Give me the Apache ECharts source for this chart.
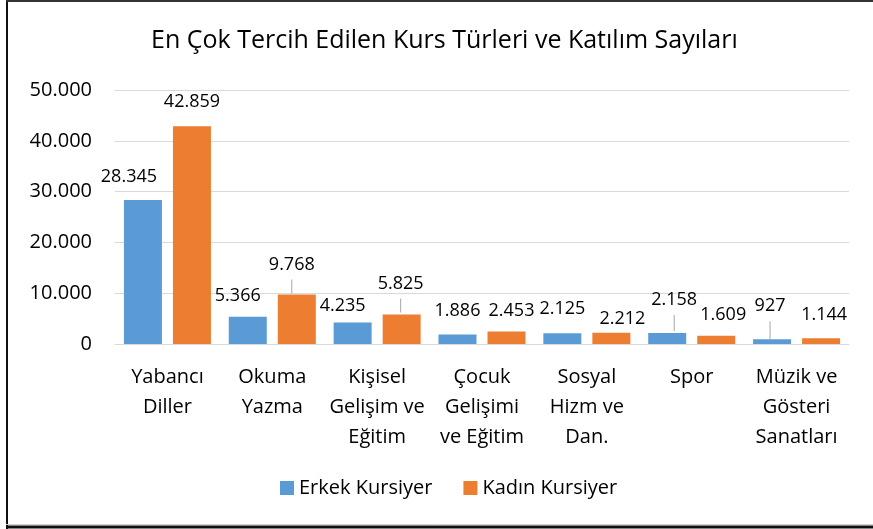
<!DOCTYPE html>
<html>
<head>
<meta charset="utf-8">
<script src="https://cdn.jsdelivr.net/npm/echarts@6/dist/echarts.min.js"></script>
<style>
html,body{margin:0;padding:0;background:#fff;}
#c{width:873px;height:529px;}
</style>
</head>
<body>
<div id="c"></div>
<script>
const titleText = 'En Çok Tercih Edilen Kurs Türleri ve Katılım Sayıları';
const categories = ['Yabancı\nDiller', 'Okuma\nYazma', 'Kişisel\nGelişim ve\nEğitim', 'Çocuk\nGelişimi\nve Eğitim', 'Sosyal\nHizm ve\nDan.', 'Spor', 'Müzik ve\nGösteri\nSanatları'];
const seriesNames = ['Erkek Kursiyer', 'Kadın Kursiyer'];
const erkek = [28345, 5366, 4235, 1886, 2125, 2158, 927];
const kadin = [42859, 9768, 5825, 2453, 2212, 1609, 1144];
const yTicks = [0, 10000, 20000, 30000, 40000, 50000];

// label placement (style only): [dx, dy] and leader-line length (0 = none)
const erkekLabelOffsets = [[-14, -9], [-10, -7], [-10, -3], [0, -10], [0, -10], [7, -1], [-2, 2]];
const kadinLabelOffsets = [[0, -10], [-5, 0], [-1, -1], [5, -7], [11, 0], [7, -7], [3, -9]];
const erkekLeader = [0, 0, 0, 0, 0, 16, 19];
const kadinLeader = [0, 14, 14, 0, 0, 0, 0];

const FONT = 'Open Sans';
const fmt = v => String(v).replace(/\B(?=(\d{3})+(?!\d))/g, '.');

function buildData(vals, offs, leaders) {
  return vals.map((v, i) => {
    const item = { value: v, label: { offset: offs[i] } };
    if (leaders[i] > 0) {
      item.label.distance = 1;
      item.label.formatter = p => '{v|' + fmt(p.value) + '}\n{l|}';
      item.label.rich = {
        v: { fontFamily: FONT, fontSize: 18, color: '#000', lineHeight: 30 },
        l: { width: 1, height: leaders[i], lineHeight: leaders[i], backgroundColor: '#a6a6a6' }
      };
    }
    return item;
  });
}

const chart = echarts.init(document.getElementById('c'), null, { renderer: 'canvas' });
chart.setOption({
  animation: false,
  backgroundColor: '#fff',
  title: {
    text: titleText,
    left: 146,
    top: 23,
    padding: 5,
    textStyle: { fontFamily: FONT, fontSize: 25, fontWeight: 'normal', color: '#000' }
  },
  legend: {
    data: seriesNames,
    left: 275,
    top: 473,
    icon: 'rect',
    itemWidth: 14,
    itemHeight: 14,
    itemGap: 31,
    textStyle: { fontFamily: FONT, fontSize: 20, color: '#000' }
  },
  grid: { left: 115, right: 24, top: 90, bottom: 185, containLabel: false },
  xAxis: {
    type: 'category',
    data: categories,
    axisLine: { lineStyle: { color: '#d9d9d9', width: 1 } },
    axisTick: { show: false },
    axisLabel: { interval: 0, margin: 18, fontFamily: FONT, fontSize: 20, lineHeight: 30, color: '#000' }
  },
  yAxis: {
    type: 'value',
    min: yTicks[0],
    max: yTicks[yTicks.length - 1],
    interval: yTicks[1] - yTicks[0],
    axisLine: { show: false },
    axisTick: { show: false },
    splitLine: { lineStyle: { color: '#d9d9d9', width: 1 } },
    axisLabel: { margin: 23, fontFamily: FONT, fontSize: 20, color: '#000', formatter: fmt }
  },
  series: [
    {
      name: seriesNames[0],
      type: 'bar',
      barWidth: 38,
      barGap: '29%',
      itemStyle: { color: '#5B9BD5' },
      label: { show: true, position: 'top', distance: 5, fontFamily: FONT, fontSize: 18, color: '#000', formatter: p => fmt(p.value) },
      data: buildData(erkek, erkekLabelOffsets, erkekLeader)
    },
    {
      name: seriesNames[1],
      type: 'bar',
      barWidth: 38,
      barGap: '29%',
      itemStyle: { color: '#ED7D31' },
      label: { show: true, position: 'top', distance: 5, fontFamily: FONT, fontSize: 18, color: '#000', formatter: p => fmt(p.value) },
      data: buildData(kadin, kadinLabelOffsets, kadinLeader)
    }
  ],
  graphic: [
    { type: 'line', shape: { x1: 7, y1: 0, x2: 7, y2: 529 }, style: { stroke: '#111', lineWidth: 2 }, silent: true },
    { type: 'line', shape: { x1: 6, y1: 1, x2: 873, y2: 1 }, style: { stroke: '#333', lineWidth: 2 }, silent: true },
    { type: 'line', shape: { x1: 6, y1: 524.5, x2: 873, y2: 524.5 }, style: { stroke: '#d0d0d0', lineWidth: 1 }, silent: true },
    { type: 'line', shape: { x1: 6, y1: 527, x2: 873, y2: 527 }, style: { stroke: '#111', lineWidth: 3 }, silent: true }
  ]
});
</script>
</body>
</html>
